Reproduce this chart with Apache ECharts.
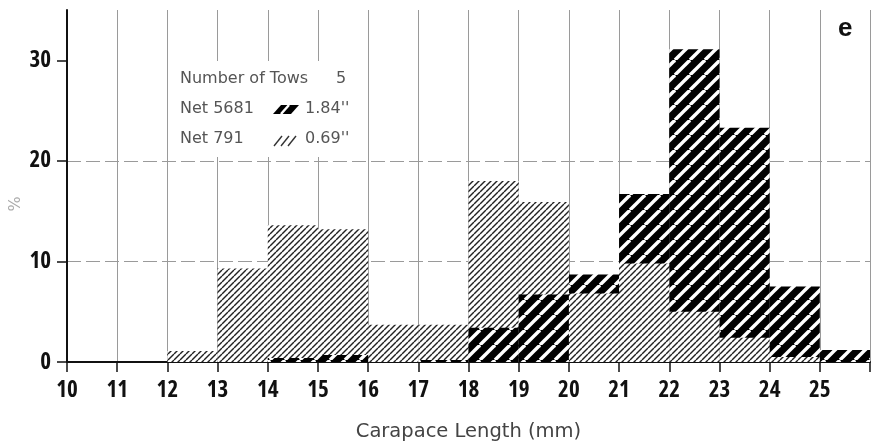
<!DOCTYPE html>
<html>
<head>
<meta charset="utf-8">
<script src="https://cdn.jsdelivr.net/npm/echarts@6/dist/echarts.min.js"></script>
<style>
  html, body { margin: 0; padding: 0; background: #fff; }
  #chart { width: 877px; height: 442px; }
</style>
</head>
<body>
<div id="chart"></div>
<script>
// Carapace-length bins (lower edge, mm); each bin is 1 mm wide
const binStarts = [10, 11, 12, 13, 14, 15, 16, 17, 18, 19, 20, 21, 22, 23, 24, 25];
// Percent of catch per bin
const net5681 = [0, 0, 0, 0, 0.4, 0.7, 0, 0.2, 3.4, 6.7, 8.7, 16.7, 31.1, 23.3, 7.5, 1.2];
const net791  = [0, 0, 1.1, 9.3, 13.6, 13.2, 3.7, 3.7, 18.0, 15.9, 6.8, 9.8, 5.0, 2.4, 0.5, 0];
// Axis tick values
const xTickValues = [10, 11, 12, 13, 14, 15, 16, 17, 18, 19, 20, 21, 22, 23, 24, 25, 26];
const xLabelValues = [10, 11, 12, 13, 14, 15, 16, 17, 18, 19, 20, 21, 22, 23, 24, 25];
const yTickValues = [0, 10, 20, 30];
// Key text
const keyTitle = ['Number of Tows', '5'];
const keyRows = [
  ['Net 5681', '1.84\'\''],
  ['Net 791', '0.69\'\'']
];
const panelLetter = 'e';

// Hatch fills
function hatch(period, bg, fg, width) {
  const c = document.createElement('canvas');
  c.width = period; c.height = period;
  const g = c.getContext('2d');
  g.fillStyle = bg; g.fillRect(0, 0, period, period);
  g.strokeStyle = fg; g.lineWidth = width;
  for (let k = -1; k <= 1; k++) {
    g.beginPath();
    g.moveTo(k * period, period);
    g.lineTo(k * period + period, 0);
    g.stroke();
  }
  return { image: c, repeat: 'repeat' };
}
const heavyFill = hatch(15, '#000', '#fff', 3.4);
const lightFill = hatch(6, '#fff', '#222', 1.4);

function binData(values) {
  return binStarts.map((s, i) => [s, s + 1, values[i]]);
}
// Net 5681 bins that are shorter than Net 791 sit in front
const net5681Front = net5681.map((v, i) => (v < net791[i] ? v : 0));

function binRenderer(fill) {
  return function (params, api) {
    const lo = api.value(0), hi = api.value(1), v = api.value(2);
    if (!v) return null;
    const a = api.coord([lo, 0]);
    const b = api.coord([hi, v]);
    return {
      type: 'rect',
      shape: { x: a[0], y: b[1], width: b[0] - a[0], height: a[1] - b[1] },
      style: { fill: fill }
    };
  };
}

// Narrow bold numerals for the axes
const tickFont = {
  fontFamily: '"Open Sans", sans-serif',
  fontWeight: 'bold condensed',
  fontSize: 23,
  color: '#111'
};

const keyFont = { fontFamily: '"DejaVu Sans", sans-serif', fontSize: 16, fill: '#555' };

const chart = echarts.init(document.getElementById('chart'), null, { renderer: 'canvas' });
chart.setOption({
  animation: false,
  backgroundColor: '#fff',
  grid: { left: 67, right: 7, top: 10, bottom: 80, outerBoundsMode: 'none' },
  xAxis: {
    type: 'value',
    min: 10, max: 26, interval: 1,
    name: 'Carapace Length (mm)',
    nameLocation: 'middle',
    nameGap: 60,
    nameTextStyle: { fontFamily: '"DejaVu Sans", sans-serif', fontSize: 19.5, color: '#444' },
    axisLine: { show: true, lineStyle: { color: '#111', width: 2 } },
    axisTick: { show: true, length: 10, lineStyle: { color: '#111', width: 1.5 }, customValues: xTickValues },
    axisLabel: Object.assign({ margin: 17, customValues: xLabelValues }, tickFont),
    splitLine: { show: true, showMinLine: false, showMaxLine: true, lineStyle: { color: '#9a9a9a', width: 1 } }
  },
  yAxis: {
    type: 'value',
    min: 0, max: 35, interval: 10,
    name: '%',
    nameLocation: 'middle',
    nameGap: 43,
    nameMoveOverlap: false,
    nameRotate: 90,
    nameTextStyle: { fontFamily: '"DejaVu Sans", sans-serif', fontSize: 16, color: '#aaa', padding: [0, 36, 0, 0] },
    axisLine: { show: true, lineStyle: { color: '#111', width: 2 } },
    axisTick: { show: true, length: 10, lineStyle: { color: '#111', width: 1.5 }, customValues: yTickValues },
    axisLabel: Object.assign({ margin: 16, customValues: yTickValues }, tickFont),
    splitLine: { show: true, showMinLine: false, showMaxLine: false, lineStyle: { color: '#9a9a9a', width: 1, type: [14, 5] } }
  },
  series: [
    { name: 'Net 5681', type: 'custom', renderItem: binRenderer(heavyFill), encode: { x: [0, 1], y: 2 }, data: binData(net5681), z: 2 },
    { name: 'Net 791', type: 'custom', renderItem: binRenderer(lightFill), encode: { x: [0, 1], y: 2 }, data: binData(net791), z: 3 },
    { name: 'Net 5681 (front)', type: 'custom', renderItem: binRenderer(heavyFill), encode: { x: [0, 1], y: 2 }, data: binData(net5681Front), z: 4 }
  ],
  graphic: [
    { type: 'rect', left: 170, top: 61, shape: { width: 190, height: 96 }, style: { fill: '#fff' }, z: 10 },
    { type: 'text', left: 180, top: 71, style: Object.assign({ text: keyTitle[0] }, keyFont), z: 11 },
    { type: 'text', left: 336, top: 71, style: Object.assign({ text: keyTitle[1] }, keyFont), z: 11 },
    { type: 'text', left: 180, top: 101, style: Object.assign({ text: keyRows[0][0] }, keyFont), z: 11 },
    { type: 'text', left: 305, top: 101, style: Object.assign({ text: keyRows[0][1] }, keyFont), z: 11 },
    { type: 'text', left: 180, top: 131, style: Object.assign({ text: keyRows[1][0] }, keyFont), z: 11 },
    { type: 'text', left: 305, top: 131, style: Object.assign({ text: keyRows[1][1] }, keyFont), z: 11 },
    {
      type: 'polygon', z: 11,
      shape: { points: [[273, 114], [281, 105], [299, 105], [291, 114]] },
      style: { fill: '#000' }
    },
    { type: 'line', z: 12, shape: { x1: 281, y1: 114, x2: 289, y2: 105 }, style: { stroke: '#fff', lineWidth: 2.5 } },
    { type: 'line', z: 11, shape: { x1: 274, y1: 146, x2: 282, y2: 136 }, style: { stroke: '#333', lineWidth: 1.4 } },
    { type: 'line', z: 11, shape: { x1: 281, y1: 146, x2: 289, y2: 136 }, style: { stroke: '#333', lineWidth: 1.4 } },
    { type: 'line', z: 11, shape: { x1: 288, y1: 146, x2: 296, y2: 136 }, style: { stroke: '#333', lineWidth: 1.4 } },
    {
      type: 'text', left: 838, top: 16, z: 11,
      style: { text: panelLetter, fontFamily: '"Liberation Sans", Arial, sans-serif', fontWeight: 'bold', fontSize: 26, fill: '#111' }
    }
  ]
});
</script>
</body>
</html>
